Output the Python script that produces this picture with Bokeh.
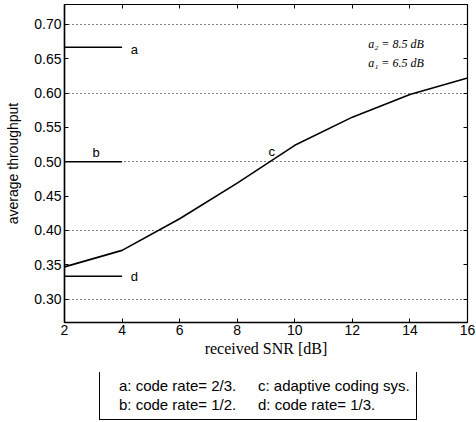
from bokeh.plotting import figure
from bokeh.layouts import column
from bokeh.models import (LinearAxis, FixedTicker, PrintfTickFormatter,
                          Legend, LegendItem, Label, Range1d)
from bokeh.embed import file_html
from bokeh.resources import INLINE

# data
snr = [2, 4, 6, 8, 10, 12, 14, 16]
adaptive = [0.347, 0.371, 0.417, 0.469, 0.524, 0.565, 0.598, 0.622]
fixed_x = [2, 4]
rate_a = [2/3, 2/3]
rate_b = [0.5, 0.5]
rate_d = [1/3, 1/3]
curve_letters = ["a", "b", "c", "d"]
letter_x = [4.3, 3.1, 9.2, 4.3]
letter_y = [0.664, 0.513, 0.515, 0.333]
letter_align = ["left", "center", "center", "left"]
legend_labels = ["a: code rate= 2/3.", "b: code rate= 1/2.",
                 "c: adaptive coding sys.", "d: code rate= 1/3."]
x_ticks = [2, 4, 6, 8, 10, 12, 14, 16]
y_ticks = [0.30, 0.35, 0.40, 0.45, 0.50, 0.55, 0.60, 0.65, 0.70]
grid_ticks = [0.30, 0.40, 0.50, 0.60, 0.70]
note_lines = ["a\u2082 = 8.5 dB", "a\u2081 = 6.5 dB"]
note_y = [0.672, 0.644]
note_x = 12.55

sans = "Liberation Sans"
serif = "Liberation Serif"

p = figure(width=476, height=372, output_backend="svg", toolbar_location=None,
           x_range=Range1d(2, 16), y_range=Range1d(0.266, 0.729),
           min_border_left=64, min_border_right=9, min_border_top=4, min_border_bottom=50)
p.background_fill_color = "white"
p.border_fill_color = "white"
p.outline_line_color = "black"
p.outline_line_width = 1.2

# main axes
for ax in (p.xaxis[0], p.yaxis[0]):
    ax.axis_line_color = "black"
    ax.axis_line_width = 1.5
    ax.major_tick_in = 4
    ax.major_tick_out = 0
    ax.minor_tick_line_color = None
    ax.major_tick_line_color = "black"
    ax.major_label_text_font = sans
    ax.major_label_text_font_size = "14px"
    ax.major_label_text_color = "black"
    ax.axis_label_text_font_style = "normal"
    ax.axis_label_text_color = "black"

p.xaxis.ticker = FixedTicker(ticks=x_ticks)
p.xaxis.major_label_standoff = 2
p.xaxis.axis_label = "received SNR [dB]"
p.xaxis.axis_label_text_font = serif
p.xaxis.axis_label_text_font_size = "16px"
p.xaxis.axis_label_standoff = 2

p.yaxis.ticker = FixedTicker(ticks=y_ticks)
p.yaxis.formatter = PrintfTickFormatter(format="%.2f")
p.yaxis.major_label_standoff = 3
p.yaxis.axis_label = "average throughput"
p.yaxis.axis_label_text_font = sans
p.yaxis.axis_label_text_font_size = "14px"
p.yaxis.axis_label_standoff = 10

# mirrored axes (ticks only)
top = LinearAxis(ticker=FixedTicker(ticks=x_ticks), major_label_text_font_size="0px",
                 major_tick_in=4, major_tick_out=0, minor_tick_line_color=None,
                 axis_line_color="black", major_label_standoff=0)
right = LinearAxis(ticker=FixedTicker(ticks=y_ticks), major_label_text_font_size="0px",
                   major_tick_in=4, major_tick_out=0, minor_tick_line_color=None,
                   axis_line_color="black", major_label_standoff=0)
p.add_layout(top, "above")
p.add_layout(right, "right")

# grid
p.xgrid.grid_line_color = None
p.ygrid.ticker = FixedTicker(ticks=grid_ticks)
p.ygrid.grid_line_color = "black"
p.ygrid.grid_line_dash = "1 3"
p.ygrid.grid_line_width = 1

# lines
p.line(fixed_x, rate_a, line_color="black", line_width=1.6)
p.line(fixed_x, rate_b, line_color="black", line_width=1.6)
p.line(snr, adaptive, line_color="black", line_width=1.6)
p.line(fixed_x, rate_d, line_color="black", line_width=1.6)

for t, xx, yy, al in zip(curve_letters, letter_x, letter_y, letter_align):
    p.add_layout(Label(x=xx, y=yy, text=t, text_font=sans, text_font_size="13px",
                       text_baseline="middle", text_align=al, text_color="black"))

for txt, yy in zip(note_lines, note_y):
    p.add_layout(Label(x=note_x, y=yy, text=txt, text_font=serif, text_font_style="italic",
                       text_font_size="12px", text_baseline="middle", text_align="left",
                       text_color="black"))

# legend strip below the chart
q = figure(width=476, height=50, output_backend="svg", toolbar_location=None,
           x_range=Range1d(0, 1), y_range=Range1d(0, 1),
           min_border_left=0, min_border_right=0, min_border_top=0, min_border_bottom=0)
q.axis.visible = False
q.grid.grid_line_color = None
q.outline_line_color = None
q.border_fill_color = "white"
dummies = [q.line([], [], line_color="black") for _ in legend_labels]
legend = Legend(items=[LegendItem(label=l, renderers=[r]) for l, r in
                       zip(legend_labels, dummies)],
                orientation="vertical", nrows=2,
                glyph_width=0, glyph_height=16, label_standoff=13, label_width=124,
                label_height=16, spacing=2, padding=6, margin=0,
                label_text_font=sans, label_text_font_size="15px",
                label_text_color="black",
                border_line_color="black", border_line_width=1.5, border_line_alpha=1,
                background_fill_color="white", background_fill_alpha=1,
                location=(35, 2))
q.add_layout(legend, "center")

open("out.html", "w").write(file_html(column(p, q, spacing=0), INLINE))
